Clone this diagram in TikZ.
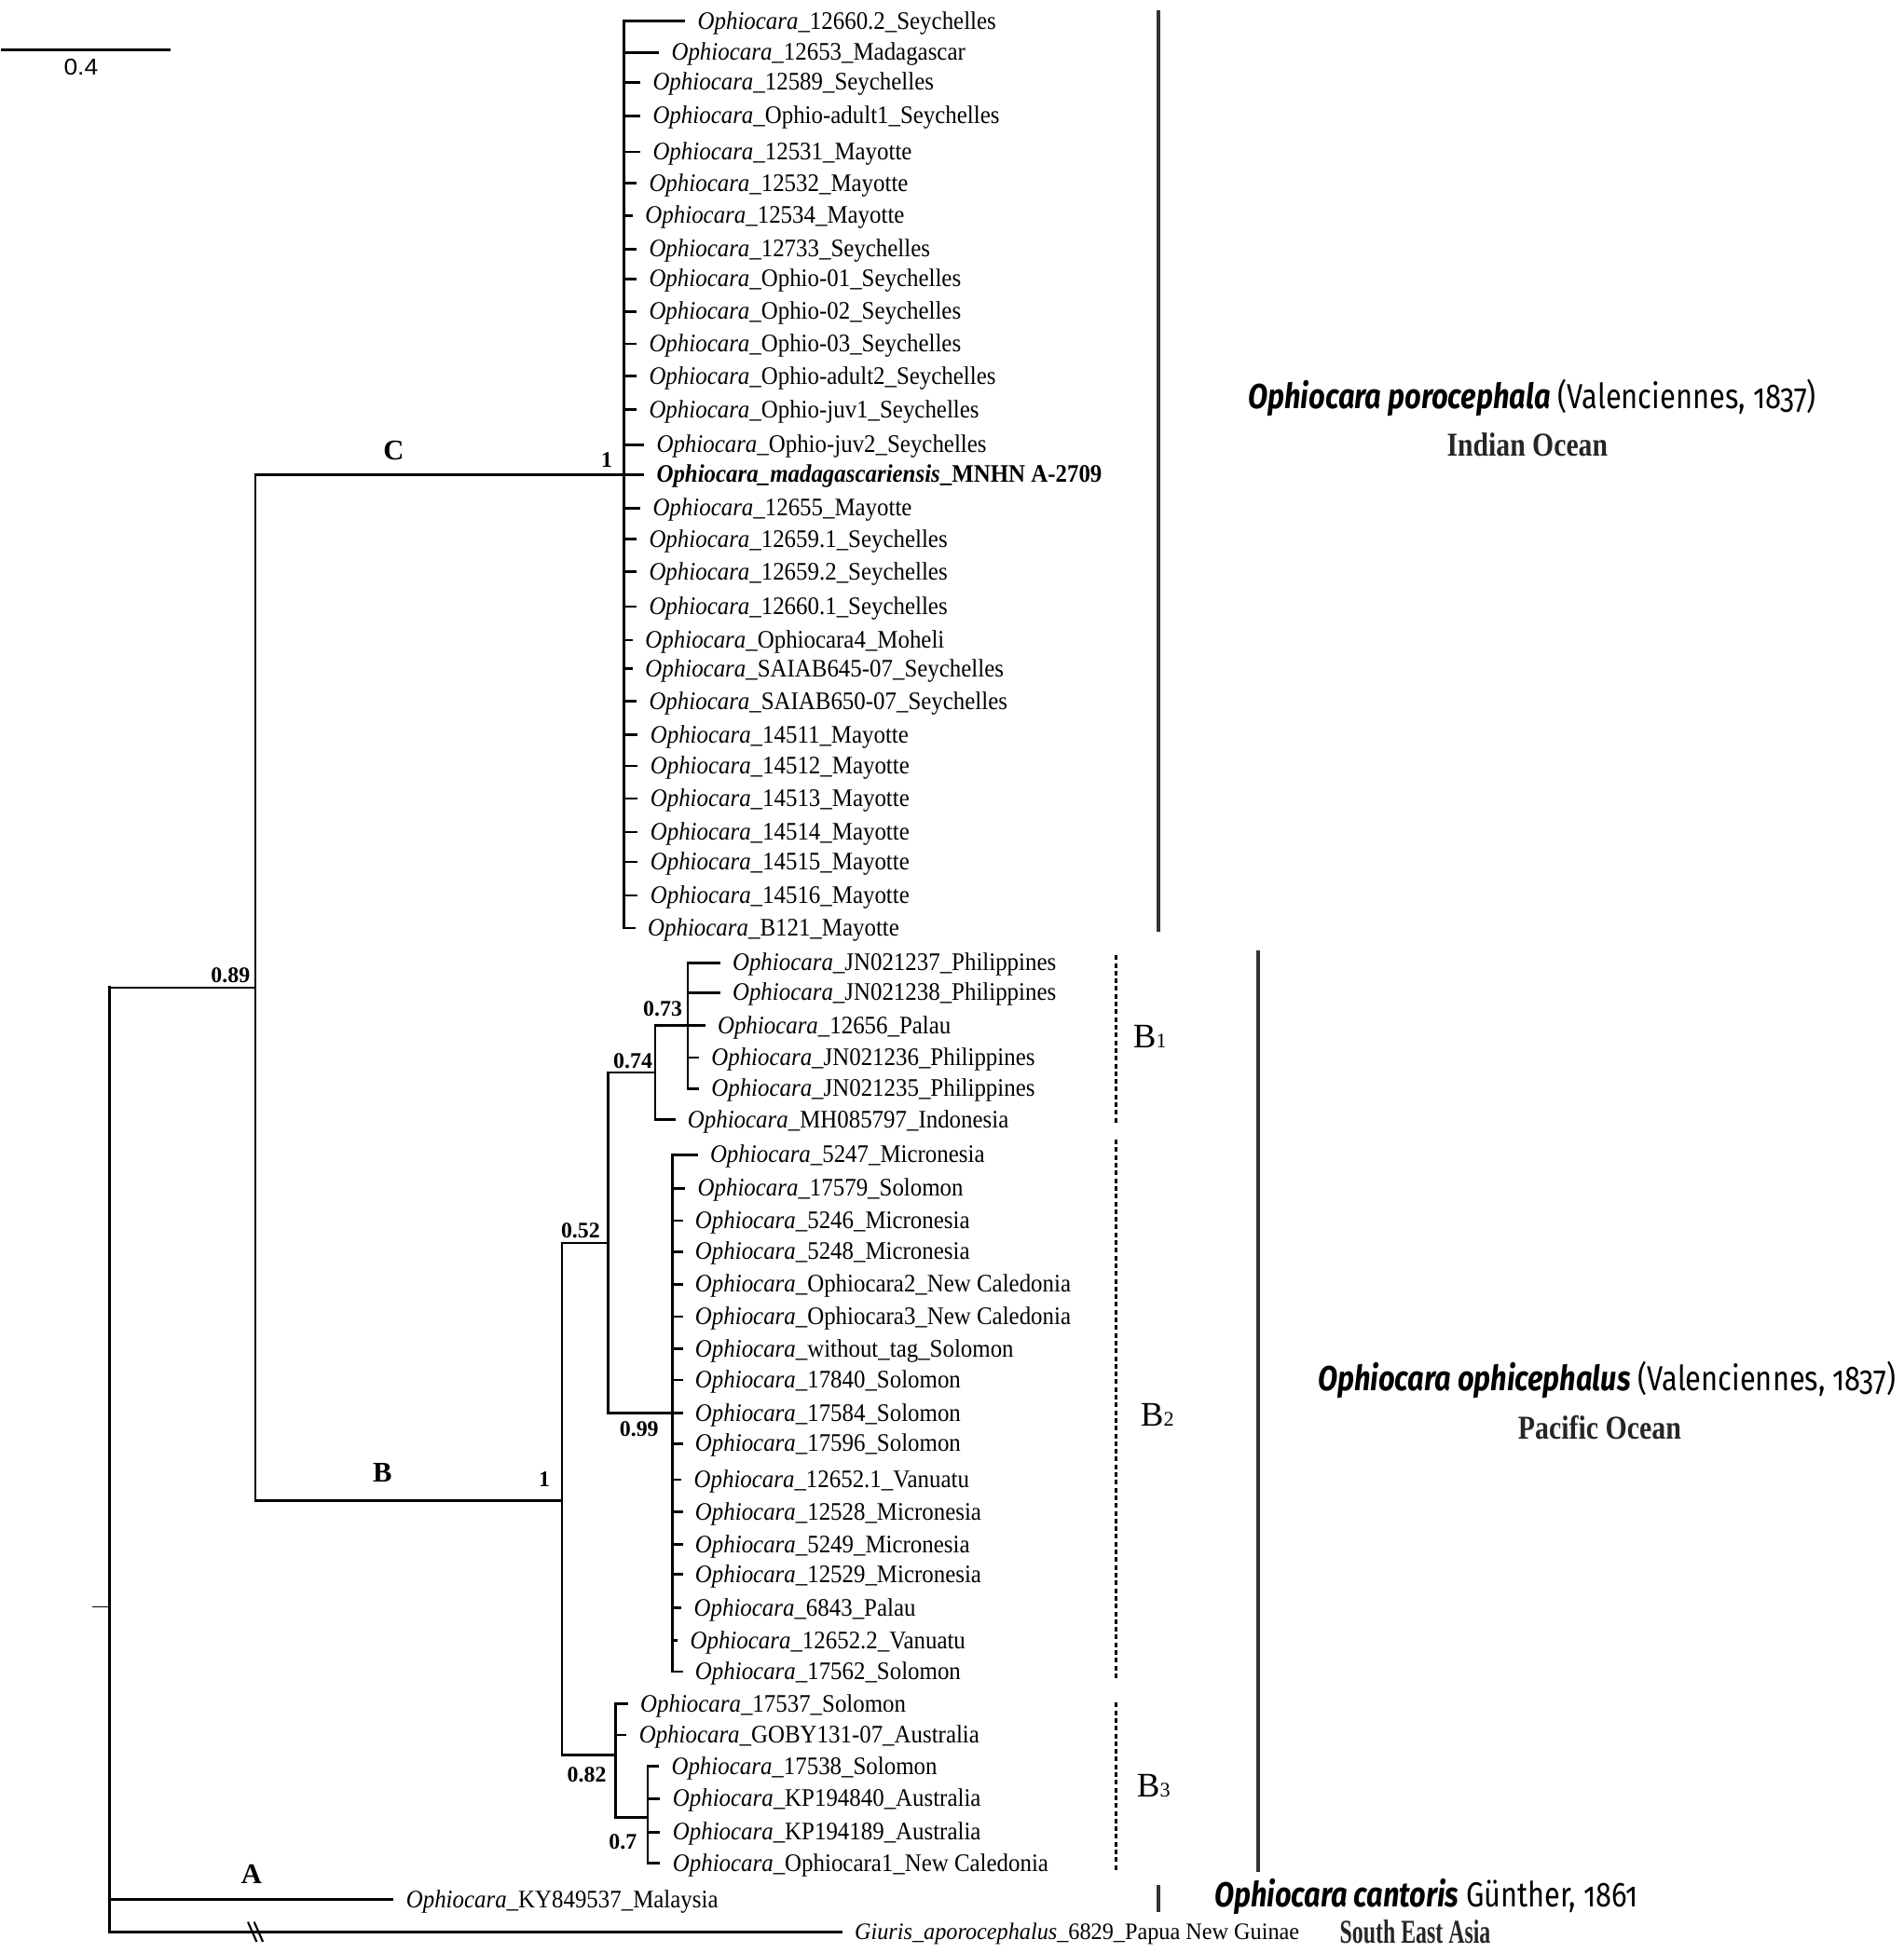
\documentclass[tikz,border=0pt]{standalone}
\usepackage{fontspec}
\usepackage{graphicx}
\setmainfont{Liberation Serif}
\newfontfamily\labf{Liberation Serif}[FakeStretch=0.92]
\newfontfamily\spf{Fira Sans}[Numbers=OldStyle]
\newfontfamily\arf{Liberation Sans}
\newcommand\oph[1]{\textit{Ophiocara}\_#1}
\begin{document}
\begin{tikzpicture}[x=0.013364cm,y=-0.013364cm]
\tikzset{
 br/.style={line width=0.77pt, line cap=rect},
 lab/.style={anchor=west, inner sep=0pt, outer xsep=4.2pt, outer ysep=0pt,
   font=\labf\fontsize{7.7}{9}\selectfont, text height=0.17cm, text depth=0pt},
 supv/.style={font=\bfseries\fontsize{6.8}{8}\selectfont, inner sep=0pt},
 cl/.style={font=\bfseries\fontsize{8.7}{10}\selectfont, inner sep=0pt},
 cbar/.style={line width=1.3pt, draw=black!80},
 dbar/.style={line width=0.7pt, dash pattern=on 0.05cm off 0.033cm},
 sub/.style={font=\fontsize{10.5}{12}\selectfont, inner sep=0pt},
 sp/.style={inner sep=0pt, font=\spf\fontsize{10.6}{13}\selectfont},
 oc/.style={inner sep=0pt, text=black!85, font=\bfseries\fontsize{10.2}{12}\selectfont},
}
\useasboundingbox (0,0) rectangle (1528,1568);

% scale bar
\coordinate (s0) at (1,40);
\coordinate (s1) at (137,40);
\draw[line width=0.77pt] (s0) -- (s1);
\node[inner sep=0pt, font=\arf\fontsize{7}{8}\selectfont] (slab) at (65,54) {\resizebox{0.367cm}{\height}{0.4}};

% internal nodes
\coordinate (Rs) at (74,1290);
\coordinate (R) at (88,1290);
\coordinate (N89) at (205,793);
\coordinate (NC) at (501,381);
\coordinate (NB) at (451,1205);
\coordinate (N52) at (488,998);
\coordinate (N74) at (526,861);
\coordinate (N73) at (552,823.5);
\coordinate (N99) at (540,1134.5);
\coordinate (N82) at (494,1409);
\coordinate (N7) at (520,1459);

% clade C leaves
\foreach \nm/\yy/\xx/\labtxt in {
 c1/17/560/12660.2\_Seychelles,
 c2/42/539/12653\_Madagascar,
 c3/66/524/12589\_Seychelles,
 c4/93/524/Ophio-adult1\_Seychelles,
 c5/122/524/12531\_Mayotte,
 c6/147/521/12532\_Mayotte,
 c7/173/518/12534\_Mayotte,
 c8/200/521/12733\_Seychelles,
 c9/224/521/Ophio-01\_Seychelles,
 c10/250/521/Ophio-02\_Seychelles,
 c11/276/521/Ophio-03\_Seychelles,
 c12/302/521/Ophio-adult2\_Seychelles,
 c13/329/521/Ophio-juv1\_Seychelles,
 c14/357/527/Ophio-juv2\_Seychelles,
 c16/408/524/12655\_Mayotte,
 c17/433/521/12659.1\_Seychelles,
 c18/459/521/12659.2\_Seychelles,
 c19/487/521/12660.1\_Seychelles,
 c20/514/518/Ophiocara4\_Moheli,
 c21/537/518/SAIAB645-07\_Seychelles,
 c22/563/521/SAIAB650-07\_Seychelles,
 c23/590/522/14511\_Mayotte,
 c24/615/522/14512\_Mayotte,
 c25/641/522/14513\_Mayotte,
 c26/668/522/14514\_Mayotte,
 c27/692/522/14515\_Mayotte,
 c28/719/522/14516\_Mayotte,
 c29/745/520/B121\_Mayotte}{
 \node[lab] (\nm) at (\xx-11,\yy) {\oph{\labtxt}};
 \draw[br] (NC |- \nm) -- (\nm);
}
\node[lab] (c15) at (527-11,381) {\textbf{\textit{Ophiocara\_madagascariensis}\_MNHN A-2709}};
\draw[br] (NC) -- (c15);

% clade B1
\foreach \nm/\yy/\xx/\labtxt in {
 b1/773/588/JN021237\_Philippines,
 b2/797/588/JN021238\_Philippines,
 b3/823.5/576/12656\_Palau,
 b4/849/571/JN021236\_Philippines,
 b5/874/571/JN021235\_Philippines}{
 \node[lab] (\nm) at (\xx-11,\yy) {\oph{\labtxt}};
 \draw[br] (N73 |- \nm) -- (\nm);
}
\node[lab] (b6) at (552-11,899) {\oph{MH085797\_Indonesia}};
\draw[br] (N74 |- b6) -- (b6);

% clade B2
\foreach \nm/\yy/\xx/\labtxt in {
 d1/927/570/5247\_Micronesia,
 d2/954/560/17579\_Solomon,
 d3/980/558/5246\_Micronesia,
 d4/1005/558/5248\_Micronesia,
 d5/1031/558/Ophiocara2\_New Caledonia,
 d6/1057/558/Ophiocara3\_New Caledonia,
 d7/1083/558/without\_tag\_Solomon,
 d8/1108/558/17840\_Solomon,
 d9/1134.5/558/17584\_Solomon,
 d10/1159/558/17596\_Solomon,
 d11/1188/557/12652.1\_Vanuatu,
 d12/1214/558/12528\_Micronesia,
 d13/1240/558/5249\_Micronesia,
 d14/1264/558/12529\_Micronesia,
 d15/1291/557/6843\_Palau,
 d16/1317/554/12652.2\_Vanuatu,
 d17/1342/558/17562\_Solomon}{
 \node[lab] (\nm) at (\xx-11,\yy) {\oph{\labtxt}};
 \draw[br] (N99 |- \nm) -- (\nm);
}

% clade B3
\node[lab] (e1) at (514-11,1368) {\oph{17537\_Solomon}};
\node[lab] (e2) at (513-11,1393) {\oph{GOBY131-07\_Australia}};
\draw[br] (N82 |- e1) -- (e1);
\draw[br] (N82 |- e2) -- (e2);
\foreach \nm/\yy/\xx/\labtxt in {
 e3/1418/539/17538\_Solomon,
 e4/1444/540/KP194840\_Australia,
 e5/1471/540/KP194189\_Australia,
 e6/1496/540/Ophiocara1\_New Caledonia}{
 \node[lab] (\nm) at (\xx-11,\yy) {\oph{\labtxt}};
 \draw[br] (N7 |- \nm) -- (\nm);
}

% A and outgroup
\node[lab] (a1) at (326-11,1525) {\oph{KY849537\_Malaysia}};
\node[lab, font=\labf\fontsize{7.2}{9}\selectfont] (g) at (686-11,1551)
  {\resizebox{4.771cm}{\height}{\textit{Giuris\_aporocephalus}\_6829\_Papua New Guinae}};

% tree skeleton
\draw[br] (NC |- c1) -- (NC |- c29);
\draw[br] (N73 |- b1) -- (N73 |- b5);
\draw[br] (N74 |- N73) -- (N73);
\draw[br] (N74 |- N73) -- (N74 |- b6);
\draw[br] (N99 |- d1) -- (N99 |- d17);
\draw[br] (N7 |- e3) -- (N7 |- e6);
\draw[br] (N82 |- e1) -- (N82 |- N7) -- (N7);
\draw[br] (N52 |- N74) -- (N74);
\draw[br] (N52 |- N99) -- (N99);
\draw[br] (N52 |- N74) -- (N52 |- N99);
\draw[br] (NB |- N52) -- (N52);
\draw[br] (NB |- N82) -- (N82);
\draw[br] (NB |- N52) -- (NB |- N82);
\draw[br] (N89 |- NC) -- (NC);
\draw[br] (N89 |- NB) -- (NB);
\draw[br] (N89 |- NC) -- (N89 |- NB);
\draw[br] (R |- N89) -- (N89);
\draw[br, line width=0.95pt] (R |- N89) -- (R |- g);
\draw[br] (R |- a1) -- (a1);
\draw[br] (R |- g) -- (g);
\draw[line width=0.45pt] (Rs) -- (R);

% break marks on outgroup branch
\coordinate (k1a) at (199,1543); \coordinate (k1b) at (206,1559);
\coordinate (k2a) at (204,1543); \coordinate (k2b) at (211,1559);
\draw[line width=0.6pt] (k1a) -- (k1b);
\draw[line width=0.6pt] (k2a) -- (k2b);

% support values
\node[supv] (s89) at (185,783) {0.89};
\node[supv] (sC) at (487,369) {1};
\node[supv] (sB) at (437,1188) {1};
\node[supv] (s52) at (466,988) {0.52};
\node[supv] (s74) at (508,852) {0.74};
\node[supv] (s73) at (532,810) {0.73};
\node[supv] (s99) at (513,1147) {0.99};
\node[supv] (s82) at (471,1425) {0.82};
\node[supv] (s7) at (500,1479) {0.7};

% clade letters
\node[cl] (lC) at (316,362) {C};
\node[cl] (lB) at (307,1182) {B};
\node[cl] (lA) at (202,1505) {A};

% clade bars
\coordinate (iT) at (930,8); \coordinate (iB) at (930,748);
\coordinate (pT) at (1010,763); \coordinate (pB) at (1010,1503);
\coordinate (aT) at (930,1513); \coordinate (aB) at (930,1535);
\draw[cbar] (iT) -- (iB);
\draw[cbar] (pT) -- (pB);
\draw[cbar] (aT) -- (aB);
\coordinate (d1T) at (896,767); \coordinate (d1B) at (896,902);
\coordinate (d2T) at (896,915); \coordinate (d2B) at (896,1348);
\coordinate (d3T) at (896,1367); \coordinate (d3B) at (896,1502);
\draw[dbar] (d1T) -- (d1B);
\draw[dbar] (d2T) -- (d2B);
\draw[dbar] (d3T) -- (d3B);
\node[sub] (B1) at (923,832) {B{\fontsize{6.3}{7}\selectfont 1}};
\node[sub] (B2) at (929,1136) {B{\fontsize{6.3}{7}\selectfont 2}};
\node[sub] (B3) at (926,1434) {B{\fontsize{6.3}{7}\selectfont 3}};

% species labels
\node[sp] (spI) at (1230,319) {\resizebox{6.094cm}{\height}{\textbf{\textit{Ophiocara porocephala}} (Valenciennes, 1837)}};
\node[oc] (ocI) at (1226,357) {\resizebox{1.724cm}{\height}{Indian Ocean}};
\node[sp] (spP) at (1290,1108) {\resizebox{6.201cm}{\height}{\textbf{\textit{Ophiocara ophicephalus}} (Valenciennes, 1837)}};
\node[oc] (ocP) at (1284,1146) {\resizebox{1.751cm}{\height}{Pacific Ocean}};
\node[sp] (spA) at (1145,1523) {\resizebox{4.544cm}{\height}{\textbf{\textit{Ophiocara cantoris}} Günther, 1861}};
\node[oc] (ocA) at (1136,1551) {\resizebox{1.617cm}{\height}{South East Asia}};
\end{tikzpicture}
\end{document}
